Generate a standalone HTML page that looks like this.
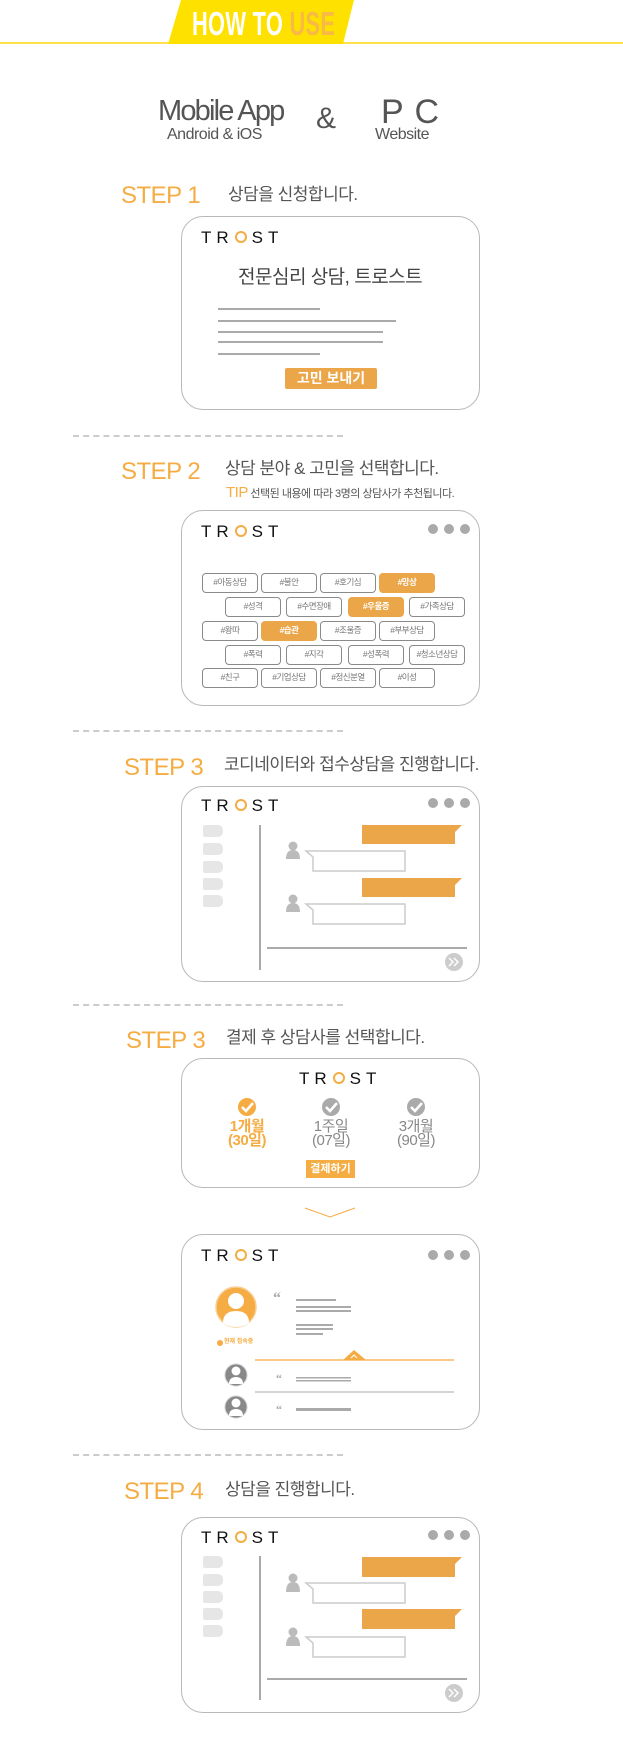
<!DOCTYPE html>
<html><head><meta charset="utf-8">
<style>
*{margin:0;padding:0;box-sizing:border-box}
body{width:623px;height:1742px;position:relative;background:#fff;font-family:"Liberation Sans","Noto Sans CJK KR",sans-serif;overflow:hidden}
.a{position:absolute}
.box{position:absolute;left:181px;width:299px;border:1.5px solid #b8b8b8;border-radius:22px;background:#fff}
.step{position:absolute;color:#f5ac42;font-size:24px;font-weight:300;line-height:1;letter-spacing:-0.5px}
.ttl{position:absolute;color:#555;font-size:17px;line-height:1;letter-spacing:-0.5px}
.dash{position:absolute;left:73px;width:270px;height:0;border-top:2px dashed #ccc}
.logo{position:absolute;font-size:17px;color:#111;letter-spacing:5px;line-height:1;white-space:nowrap;font-weight:400}
.logo i{display:inline-block;width:12px;height:12px;border:2px solid #f5ac42;border-radius:50%;margin:0 5px 0 1px;position:relative;top:0px}
.dots{position:absolute;left:246px}
.dots b{display:inline-block;width:10px;height:10px;border-radius:50%;background:#aaa;margin-right:6px}
.tag{position:absolute;width:56px;height:20px;border:1.5px solid #8a8a8a;border-radius:4px;font-size:8.5px;color:#777;text-align:center;line-height:17px;letter-spacing:-0.5px}
.tag.o{background:#eca64a;border-color:#eca64a;color:#fff;font-weight:bold}
.pill{position:absolute;left:21px;width:20px;height:12px;background:#e6e6e6;border-radius:2px 5px 5px 2px}
</style></head><body>

<!-- header -->
<div class="a" style="left:0;top:42px;width:623px;height:2px;background:#ffe14d"></div>
<svg class="a" style="left:168px;top:0" width="186" height="45"><polygon points="13,0 186,0 175,44 0,44" fill="#ffe100"/></svg>
<div class="a" style="left:192px;top:7px;font-size:33px;font-weight:bold;color:#fff;line-height:1;transform:scaleX(0.66);transform-origin:left top;white-space:nowrap;letter-spacing:0.5px">HOW TO <span style="color:#f8b945">USE</span></div>

<div class="a" style="left:158px;top:97px;font-size:29px;color:#555;line-height:1;letter-spacing:-1.8px;font-weight:300">Mobile App</div>
<div class="a" style="left:167px;top:127px;font-size:16px;color:#555;line-height:1;letter-spacing:-0.5px">Android &amp; iOS</div>
<div class="a" style="left:316px;top:104px;font-size:30px;color:#555;line-height:1">&amp;</div>
<div class="a" style="left:381px;top:95px;font-size:34px;color:#555;line-height:1;letter-spacing:1px;font-weight:300">P C</div>
<div class="a" style="left:375px;top:127px;font-size:16px;color:#555;line-height:1;letter-spacing:-0.5px">Website</div>

<!-- STEP 1 -->
<div class="step" style="left:121px;top:184px">STEP 1</div>
<div class="ttl" style="left:228px;top:186px">상담을 신청합니다.</div>
<div class="box" style="top:216px;height:194px">
  <div class="logo" style="left:19px;top:12px">TR<i></i>ST</div>
  <div class="a" style="left:56px;top:51px;font-size:19px;color:#444;line-height:1;letter-spacing:-0.5px">전문심리 상담, 트로스트</div>
  <div class="a" style="left:36px;top:91px;width:102px;height:2px;background:#aaa"></div>
  <div class="a" style="left:36px;top:103px;width:178px;height:2px;background:#aaa"></div>
  <div class="a" style="left:36px;top:114px;width:165px;height:2px;background:#aaa"></div>
  <div class="a" style="left:36px;top:124px;width:165px;height:2px;background:#aaa"></div>
  <div class="a" style="left:36px;top:136px;width:102px;height:2px;background:#aaa"></div>
  <div class="a" style="left:103px;top:151px;width:92px;height:21px;background:#eca64a;border-radius:2px;color:#fff;font-size:14px;text-align:center;line-height:21px;font-weight:bold">고민 보내기</div>
</div>

<div class="dash" style="top:435px"></div>

<!-- STEP 2 -->
<div class="step" style="left:121px;top:460px">STEP 2</div>
<div class="ttl" style="left:225px;top:460px">상담 분야 &amp; 고민을 선택합니다.</div>
<div class="a" style="left:226px;top:485px;font-size:11px;color:#555;line-height:1;letter-spacing:-0.5px;white-space:nowrap"><span style="color:#f5ac42;font-size:15px">TIP</span> 선택된 내용에 따라 3명의 상담사가 추천됩니다.</div>
<div class="box" style="top:510px;height:196px">
  <div class="logo" style="left:19px;top:12px">TR<i></i>ST</div>
  <div class="dots" style="top:10px"><b></b><b></b><b></b></div>
</div>
<div class="tag" style="left:202px;top:573px">#아동상담</div>
<div class="tag" style="left:261px;top:573px">#불안</div>
<div class="tag" style="left:320px;top:573px">#호기심</div>
<div class="tag o" style="left:379px;top:573px">#망상</div>
<div class="tag" style="left:225px;top:597px">#성격</div>
<div class="tag" style="left:286px;top:597px">#수면장애</div>
<div class="tag o" style="left:348px;top:597px">#우울증</div>
<div class="tag" style="left:409px;top:597px">#가족상담</div>
<div class="tag" style="left:202px;top:621px">#왕따</div>
<div class="tag o" style="left:261px;top:621px">#습관</div>
<div class="tag" style="left:320px;top:621px">#조울증</div>
<div class="tag" style="left:379px;top:621px">#부부상담</div>
<div class="tag" style="left:225px;top:645px">#폭력</div>
<div class="tag" style="left:286px;top:645px">#지각</div>
<div class="tag" style="left:348px;top:645px">#성폭력</div>
<div class="tag" style="left:409px;top:645px">#청소년상담</div>
<div class="tag" style="left:202px;top:668px">#친구</div>
<div class="tag" style="left:261px;top:668px">#기업상담</div>
<div class="tag" style="left:320px;top:668px">#정신분열</div>
<div class="tag" style="left:379px;top:668px">#이성</div>

<div class="dash" style="top:730px"></div>

<!-- STEP 3 chat -->
<div class="step" style="left:124px;top:756px">STEP 3</div>
<div class="ttl" style="left:224px;top:756px">코디네이터와 접수상담을 진행합니다.</div>
<div class="box" style="top:786px;height:196px">
  <div class="logo" style="left:19px;top:10px">TR<i></i>ST</div>
  <div class="dots" style="top:8px"><b></b><b></b><b></b></div>
  <div class="pill" style="top:38px"></div><div class="pill" style="top:56px"></div><div class="pill" style="top:74px"></div><div class="pill" style="top:91px"></div><div class="pill" style="top:108px"></div>
  <div class="a" style="left:77px;top:38px;width:2px;height:145px;background:#aaa"></div>
  <svg class="a" style="left:0;top:0" width="299" height="196">
    <polygon points="180,38 280,38 273,45 273,57 180,57" fill="#eca64a"/>
    <polygon points="180,91 280,91 273,98 273,110 180,110" fill="#eca64a"/>
    <g fill="#bbb"><circle cx="111" cy="59" r="4.5"/><path d="M104,72 Q104,63 111,63 Q118,63 118,72 Z"/>
    <circle cx="111" cy="112" r="4.5"/><path d="M104,125 Q104,116 111,116 Q118,116 118,125 Z"/></g>
    <polygon points="124,64 223,64 223,84 131,84 131,70" fill="#fff" stroke="#ccc" stroke-width="1.5"/>
    <polygon points="124,117 223,117 223,137 131,137 131,123" fill="#fff" stroke="#ccc" stroke-width="1.5"/>
    <line x1="85" y1="161" x2="285" y2="161" stroke="#aaa" stroke-width="2"/>
    <circle cx="272" cy="175" r="9" fill="#ccc"/>
    <path d="M267,171 L271,175 L267,179 M272,171 L276,175 L272,179" stroke="#fff" stroke-width="1.5" fill="none"/>
  </svg>
</div>

<div class="dash" style="top:1004px"></div>

<!-- STEP 3 payment -->
<div class="step" style="left:126px;top:1029px">STEP 3</div>
<div class="ttl" style="left:226px;top:1029px">결제 후 상담사를 선택합니다.</div>
<div class="box" style="top:1058px;height:130px">
  <div class="logo" style="left:117px;top:11px">TR<i></i>ST</div>
  <svg class="a" style="left:0;top:0" width="299" height="130">
    <circle cx="65" cy="48" r="9" fill="#f5ac42"/><path d="M60,48 L64,52 L71,44" stroke="#fff" stroke-width="2.5" fill="none"/>
    <circle cx="149" cy="48" r="9" fill="#aaa"/><path d="M144,48 L148,52 L155,44" stroke="#fff" stroke-width="2.5" fill="none"/>
    <circle cx="234" cy="48" r="9" fill="#aaa"/><path d="M229,48 L233,52 L240,44" stroke="#fff" stroke-width="2.5" fill="none"/>
  </svg>
  <div class="a" style="left:25px;top:61px;width:80px;text-align:center;color:#f5ac42;font-size:15px;font-weight:bold;line-height:14px;letter-spacing:-0.5px">1개월<br>(30일)</div>
  <div class="a" style="left:109px;top:61px;width:80px;text-align:center;color:#888;font-size:15px;line-height:14px;letter-spacing:-0.5px">1주일<br>(07일)</div>
  <div class="a" style="left:194px;top:61px;width:80px;text-align:center;color:#888;font-size:15px;line-height:14px;letter-spacing:-0.5px">3개월<br>(90일)</div>
  <div class="a" style="left:124px;top:101px;width:49px;height:18px;background:#f5ac42;color:#fff;font-size:11px;font-weight:bold;text-align:center;line-height:18px">결제하기</div>
</div>
<svg class="a" style="left:303px;top:1206px" width="54" height="13"><path d="M2,2 L27,11 L52,2" stroke="#f5ac42" stroke-width="1" fill="none"/></svg>

<div class="box" style="top:1234px;height:196px">
  <div class="logo" style="left:19px;top:12px">TR<i></i>ST</div>
  <div class="dots" style="top:12px"><b></b><b></b><b></b></div>
  <svg class="a" style="left:0;top:0" width="299" height="196">
    <circle cx="54" cy="72" r="20" fill="#f5ac42" stroke="#f8cf92" stroke-width="1.5"/>
    <circle cx="54" cy="66" r="8" fill="#fff"/><path d="M41,88 Q41,76 54,76 Q67,76 67,88 Q61,92 54,92 Q47,92 41,88Z" fill="#fff"/>
    <text x="91" y="68" font-size="16" font-weight="bold" fill="#aaa" font-family="Liberation Serif,serif">“</text>
    <rect x="114" y="64" width="40" height="2" fill="#aaa"/>
    <rect x="114" y="71" width="55" height="2" fill="#aaa"/>
    <rect x="114" y="75" width="55" height="2" fill="#aaa"/>
    <rect x="114" y="89" width="37" height="2" fill="#aaa"/>
    <rect x="114" y="93" width="37" height="2" fill="#aaa"/>
    <rect x="114" y="98" width="27" height="2" fill="#aaa"/>
    <circle cx="38" cy="108" r="3" fill="#f5ac42"/>
    <line x1="73" y1="125" x2="272" y2="125" stroke="#f5ac42" stroke-width="1.2"/>
    <polygon points="161,125 172,115 184,125" fill="#f5ac42"/>
    <path d="M169,123 L172,120 L175,123" stroke="#fff" stroke-width="1" fill="none"/>
    <circle cx="54" cy="140" r="11" fill="#888" stroke="#ccc" stroke-width="1"/>
    <circle cx="54" cy="136" r="4.5" fill="#fff"/><path d="M47,149 Q47,142 54,142 Q61,142 61,149 Z" fill="#fff"/>
    <text x="94" y="147" font-size="12" font-weight="bold" fill="#aaa" font-family="Liberation Serif,serif">“</text>
    <rect x="114" y="142" width="55" height="1.5" fill="#aaa"/>
    <rect x="114" y="145" width="55" height="1.5" fill="#aaa"/>
    <line x1="73" y1="157" x2="272" y2="157" stroke="#aaa" stroke-width="1"/>
    <circle cx="54" cy="172" r="11" fill="#888" stroke="#ccc" stroke-width="1"/>
    <circle cx="54" cy="168" r="4.5" fill="#fff"/><path d="M47,181 Q47,174 54,174 Q61,174 61,181 Z" fill="#fff"/>
    <text x="94" y="178" font-size="12" font-weight="bold" fill="#aaa" font-family="Liberation Serif,serif">“</text>
    <rect x="114" y="173" width="55" height="3" fill="#aaa"/>
  </svg>
  <div class="a" style="left:42px;top:104px;font-size:6px;color:#f5ac42;font-weight:bold;line-height:1;white-space:nowrap">현재 접속중</div>
</div>

<div class="dash" style="top:1454px"></div>

<!-- STEP 4 -->
<div class="step" style="left:124px;top:1480px">STEP 4</div>
<div class="ttl" style="left:225px;top:1481px">상담을 진행합니다.</div>
<div class="box" style="top:1517px;height:196px">
  <div class="logo" style="left:19px;top:11px">TR<i></i>ST</div>
  <div class="dots" style="top:9px"><b></b><b></b><b></b></div>
  <div class="pill" style="top:38px"></div><div class="pill" style="top:56px"></div><div class="pill" style="top:73px"></div><div class="pill" style="top:90px"></div><div class="pill" style="top:107px"></div>
  <div class="a" style="left:77px;top:38px;width:2px;height:144px;background:#aaa"></div>
  <svg class="a" style="left:0;top:0" width="299" height="196">
    <polygon points="180,39 280,39 273,46 273,59 180,59" fill="#eca64a"/>
    <polygon points="180,91 280,91 273,98 273,111 180,111" fill="#eca64a"/>
    <g fill="#bbb"><circle cx="111" cy="60" r="4.5"/><path d="M104,74 Q104,64 111,64 Q118,64 118,74 Z"/>
    <circle cx="111" cy="114" r="4.5"/><path d="M104,128 Q104,118 111,118 Q118,118 118,128 Z"/></g>
    <polygon points="124,65 223,65 223,85 131,85 131,71" fill="#fff" stroke="#ccc" stroke-width="1.5"/>
    <polygon points="124,119 223,119 223,139 131,139 131,125" fill="#fff" stroke="#ccc" stroke-width="1.5"/>
    <line x1="85" y1="161" x2="285" y2="161" stroke="#aaa" stroke-width="2"/>
    <circle cx="272" cy="175" r="9" fill="#ccc"/>
    <path d="M267,171 L271,175 L267,179 M272,171 L276,175 L272,179" stroke="#fff" stroke-width="1.5" fill="none"/>
  </svg>
</div>
</body></html>
